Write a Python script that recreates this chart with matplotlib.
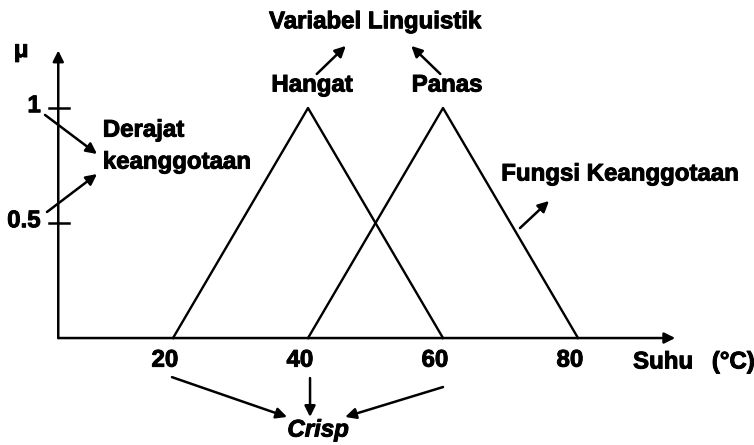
import matplotlib.pyplot as plt
import matplotlib.patheffects as pe

# Fungsi keanggotaan segitiga (a, b, c) untuk tiap variabel linguistik
himpunan = ["Hangat", "Panas"]
titik_a = [20, 40]
titik_b = [40, 60]
titik_c = [60, 80]

nilai_x = [20, 40, 60, 80]
nilai_mu = [0.5, 1]
label_mu = ["0.5", "1"]

plt.rcParams['font.family'] = ['Liberation Sans', 'DejaVu Sans']
plt.rcParams['font.weight'] = 'bold'
plt.rcParams['path.effects'] = [pe.withStroke(linewidth=0.7, foreground='black')]

fig = plt.figure(figsize=(7.54, 4.45), dpi=100)
ax = fig.add_axes([0, 0, 1, 1])
ax.set_xlim(-5.63, 106.07)
ax.set_ylim(-0.465, 1.4696)
ax.axis('off')

fs = 17.3
panah = dict(arrowstyle='-|>', mutation_scale=16, lw=1.8, color='black',
             shrinkA=0, shrinkB=0)

# sumbu mu dan sumbu suhu
ax.annotate('', xy=(3, 1.25), xytext=(3, 0), arrowprops=panah)
ax.annotate('', xy=(94.4, 0), xytext=(3, 0), arrowprops=panah)

for v, s in zip(nilai_mu, label_mu):
    ax.plot([1.6, 4.6], [v, v], color='black', lw=1.8)
    ax.text(0.4, v + 0.01, s, ha='right', va='center', fontsize=fs)
ax.text(-2.5, 1.25, 'μ', ha='center', va='center', fontsize=fs)

# segitiga
for nama, a, b, c in zip(himpunan, titik_a, titik_b, titik_c):
    ax.plot([a, b, c], [0, 1, 0], color='black', lw=1.7)
    ax.text(b + 0.6, 1.10, nama, ha='center', va='center', fontsize=fs)

for v in nilai_x:
    ax.text(v - 1.2, -0.096, str(v), ha='center', va='center', fontsize=fs)
ax.text(92.6, -0.104, 'Suhu', ha='center', va='center', fontsize=fs)
ax.text(103.0, -0.104, '(°C)', ha='center', va='center', fontsize=fs)

# keterangan
ax.text(49.9, 1.375, 'Variabel Linguistik', ha='center', va='center', fontsize=fs)
ax.annotate('', xy=(45.6, 1.27), xytext=(41.3, 1.148), arrowprops=panah)
ax.annotate('', xy=(55.3, 1.27), xytext=(59.6, 1.148), arrowprops=panah)

ax.text(9.6, 0.904, 'Derajat', ha='left', va='center', fontsize=fs)
ax.text(9.6, 0.765, 'keanggotaan', ha='left', va='center', fontsize=fs)
ax.annotate('', xy=(8.74, 0.800), xytext=(1.04, 0.970), arrowprops=panah)
ax.annotate('', xy=(8.74, 0.713), xytext=(1.33, 0.548), arrowprops=panah)

ax.text(86.2, 0.713, 'Fungsi Keanggotaan', ha='center', va='center', fontsize=fs)
ax.annotate('', xy=(75.7, 0.596), xytext=(71.4, 0.478), arrowprops=panah)

ax.text(41.5, -0.40, 'Crisp', ha='center', va='center', fontsize=fs, style='italic')
ax.annotate('', xy=(36.9, -0.343), xytext=(19.85, -0.170), arrowprops=panah)
ax.annotate('', xy=(40.3, -0.343), xytext=(40.3, -0.174), arrowprops=panah)
ax.annotate('', xy=(45.5, -0.343), xytext=(60.0, -0.213), arrowprops=panah)

fig.savefig('out.png', dpi=100)
